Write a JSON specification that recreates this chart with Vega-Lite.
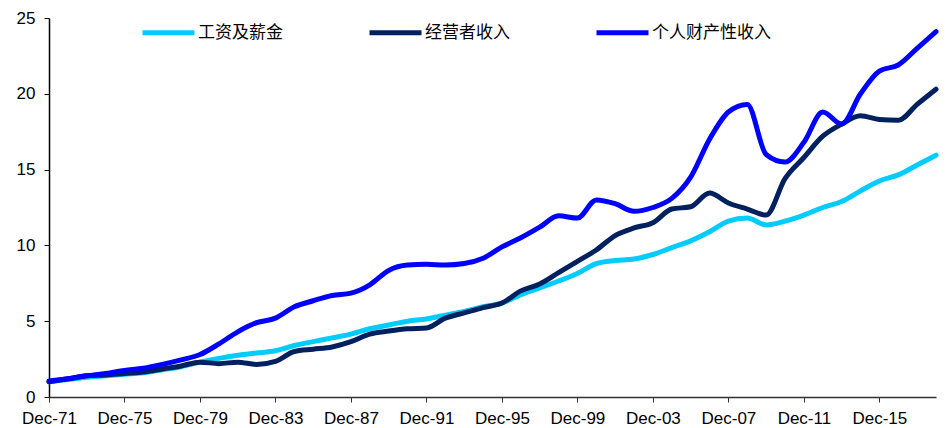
{
"$schema": "https://vega.github.io/schema/vega-lite/v6.json",
"width": 887, "height": 379,
"autosize": {"type": "none"},
"padding": {"left": 49, "top": 18, "right": 10, "bottom": 31},
"config": {"view": {"stroke": null}, "font": "Liberation Sans"},
"data": {"values": [
{"year":1971,"工资及薪金":1.0,"经营者收入":1.0,"个人财产性收入":1.05},
{"year":1972,"工资及薪金":1.15,"经营者收入":1.2,"个人财产性收入":1.2},
{"year":1973,"工资及薪金":1.3,"经营者收入":1.4,"个人财产性收入":1.4},
{"year":1974,"工资及薪金":1.4,"经营者收入":1.45,"个人财产性收入":1.55},
{"year":1975,"工资及薪金":1.5,"经营者收入":1.55,"个人财产性收入":1.75},
{"year":1976,"工资及薪金":1.6,"经营者收入":1.65,"个人财产性收入":1.9},
{"year":1977,"工资及薪金":1.8,"经营者收入":1.85,"个人财产性收入":2.15},
{"year":1978,"工资及薪金":2.0,"经营者收入":2.05,"个人财产性收入":2.45},
{"year":1979,"工资及薪金":2.3,"经营者收入":2.3,"个人财产性收入":2.8},
{"year":1980,"工资及薪金":2.55,"经营者收入":2.2,"个人财产性收入":3.5},
{"year":1981,"工资及薪金":2.75,"经营者收入":2.3,"个人财产性收入":4.3},
{"year":1982,"工资及薪金":2.9,"经营者收入":2.15,"个人财产性收入":4.9},
{"year":1983,"工资及薪金":3.05,"经营者收入":2.35,"个人财产性收入":5.2},
{"year":1984,"工资及薪金":3.4,"经营者收入":3.0,"个人财产性收入":5.95},
{"year":1985,"工资及薪金":3.65,"经营者收入":3.15,"个人财产性收入":6.35},
{"year":1986,"工资及薪金":3.9,"经营者收入":3.3,"个人财产性收入":6.7},
{"year":1987,"工资及薪金":4.15,"经营者收入":3.65,"个人财产性收入":6.85},
{"year":1988,"工资及薪金":4.5,"经营者收入":4.15,"个人财产性收入":7.4},
{"year":1989,"工资及薪金":4.75,"经营者收入":4.35,"个人财产性收入":8.35},
{"year":1990,"工资及薪金":5.0,"经营者收入":4.5,"个人财产性收入":8.7},
{"year":1991,"工资及薪金":5.15,"经营者收入":4.55,"个人财产性收入":8.75},
{"year":1992,"工资及薪金":5.4,"经营者收入":5.2,"个人财产性收入":8.7},
{"year":1993,"工资及薪金":5.65,"经营者收入":5.55,"个人财产性收入":8.8},
{"year":1994,"工资及薪金":5.95,"经营者收入":5.9,"个人财产性收入":9.15},
{"year":1995,"工资及薪金":6.2,"经营者收入":6.2,"个人财产性收入":9.9},
{"year":1996,"工资及薪金":6.75,"经营者收入":7.0,"个人财产性收入":10.5},
{"year":1997,"工资及薪金":7.2,"经营者收入":7.45,"个人财产性收入":11.2},
{"year":1998,"工资及薪金":7.65,"经营者收入":8.2,"个人财产性收入":11.95},
{"year":1999,"工资及薪金":8.15,"经营者收入":8.95,"个人财产性收入":11.8},
{"year":2000,"工资及薪金":8.8,"经营者收入":9.7,"个人财产性收入":13.0},
{"year":2001,"工资及薪金":9.0,"经营者收入":10.65,"个人财产性收入":12.75},
{"year":2002,"工资及薪金":9.1,"经营者收入":11.15,"个人财产性收入":12.25},
{"year":2003,"工资及薪金":9.4,"经营者收入":11.5,"个人财产性收入":12.5},
{"year":2004,"工资及薪金":9.85,"经营者收入":12.4,"个人财产性收入":13.1},
{"year":2005,"工资及薪金":10.3,"经营者收入":12.55,"个人财产性收入":14.5},
{"year":2006,"工资及薪金":10.9,"经营者收入":13.45,"个人财产性收入":17.0},
{"year":2007,"工资及薪金":11.6,"经营者收入":12.8,"个人财产性收入":18.8},
{"year":2008,"工资及薪金":11.8,"经营者收入":12.4,"个人财产性收入":19.3},
{"year":2009,"工资及薪金":11.35,"经营者收入":12.0,"个人财产性收入":16.0},
{"year":2010,"工资及薪金":11.6,"经营者收入":14.4,"个人财产性收入":15.5},
{"year":2011,"工资及薪金":12.0,"经营者收入":15.8,"个人财产性收入":16.8},
{"year":2012,"工资及薪金":12.5,"经营者收入":17.2,"个人财产性收入":18.8},
{"year":2013,"工资及薪金":12.9,"经营者收入":18.0,"个人财产性收入":18.0},
{"year":2014,"工资及薪金":13.6,"经营者收入":18.55,"个人财产性收入":20.0},
{"year":2015,"工资及薪金":14.25,"经营者收入":18.3,"个人财产性收入":21.5},
{"year":2016,"工资及薪金":14.65,"经营者收入":18.25,"个人财产性收入":21.9},
{"year":2017,"工资及薪金":15.3,"经营者收入":19.3,"个人财产性收入":23.0},
{"year":2018,"工资及薪金":15.95,"经营者收入":20.3,"个人财产性收入":24.1}
]},
"transform": [{"fold": ["工资及薪金", "经营者收入", "个人财产性收入"], "as": ["series", "value"]}],
"mark": {"type": "line", "strokeWidth": 5, "interpolate": "monotone", "strokeCap": "round", "strokeJoin": "round"},
"encoding": {
"x": {"field": "year", "type": "quantitative",
 "scale": {"domain": [1971, 2018], "nice": false, "zero": false},
 "axis": {"values": [1971,1975,1979,1983,1987,1991,1995,1999,2003,2007,2011,2015],
  "labelExpr": "'Dec-' + substring(toString(datum.value), 2, 4)",
  "title": null, "grid": false, "domainColor": "#333333", "domainWidth": 1.5, "tickColor": "#333333", "tickSize": 5,
  "labelFontSize": 17, "labelColor": "#000000", "labelPadding": 8, "labelFlush": false}},
"y": {"field": "value", "type": "quantitative",
 "scale": {"domain": [0, 25], "nice": false},
 "axis": {"values": [0,5,10,15,20,25], "title": null, "grid": false, "domainColor": "#000000", "domainWidth": 1.5,
  "tickColor": "#000000", "tickSize": 5, "labelFontSize": 17, "labelColor": "#000000", "labelPadding": 9}},
"color": {"field": "series", "type": "nominal",
 "scale": {"domain": ["工资及薪金", "经营者收入", "个人财产性收入"], "range": ["#00CCFF", "#002060", "#0000FF"]},
 "legend": {"title": null, "orient": "none", "legendX": 91, "legendY": -14, "direction": "horizontal",
  "symbolType": "stroke", "symbolSize": 2704, "symbolStrokeWidth": 5, "labelFont": "Noto Sans CJK SC",
  "labelFontSize": 17, "labelColor": "#000000", "columnPadding": 76, "labelOffset": 1, "padding": 0, "labelLimit": 300}}
}
}
